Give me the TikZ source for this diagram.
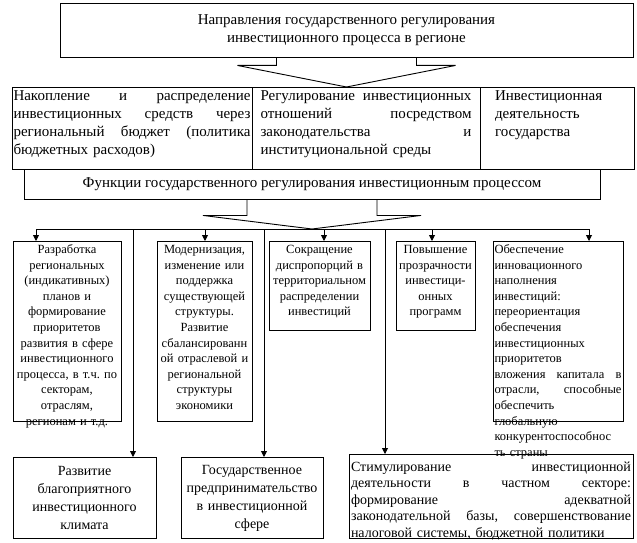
\documentclass[tikz,border=0pt]{standalone}
\usepackage{fontspec}
\setmainfont{Liberation Serif}
\usetikzlibrary{arrows.meta, calc}
\frenchspacing
\newcommand{\jl}[1]{{\spaceskip=0.25em plus 10em\relax\makebox[\hsize][s]{#1}}}
\tikzset{
  head/.style={draw, line width=0.9pt, align=center, font={\fontsize{15pt}{18pt}\selectfont}},
  cell/.style={draw, line width=0.9pt, anchor=north, align=left, inner ysep=0pt,
               font={\fontsize{15pt}{18pt}\selectfont}, text height=13pt, text depth=69pt},
  fn/.style={draw, line width=0.9pt, anchor=north, align=center, inner xsep=1.5pt, inner ysep=0pt,
             font={\fontsize{12.5pt}{15.6pt}\selectfont}, text height=12pt, text depth=#1},
  fn/.default=168pt,
  res/.style={draw, line width=0.9pt, anchor=north, inner xsep=2pt, align=center,
              font={\fontsize{14pt}{18pt}\selectfont}},
  arr/.style={-{Triangle[length=6pt, width=6pt]}, line width=0.9pt},
  wire/.style={line width=0.9pt},
  fat/.style={line width=0.9pt, line join=miter},
}

\begin{document}
\begin{tikzpicture}[x=1pt, y=-1pt]
    \useasboundingbox (0,0) rectangle (637,543);
    % header
    \node[head, minimum width=573pt, minimum height=54pt] (dir) at (346.5,30)
      {Направления государственного регулирования\\инвестиционного процесса в регионе};
    % directions
    \node[cell, text width=237pt, inner xsep=1.5pt] (acc) at (132,87)
      {\jl{Накопление и распределение}\\\jl{инвестиционных средств через}\\\jl{региональный бюджет (политика}\\бюджетных расходов)};
    \node[cell, text width=211pt, inner xsep=8.5pt] (reg) at (366,87)
      {\jl{Регулирование инвестиционных}\\\jl{отношений посредством}\\\jl{законодательства и}\\институциональной среды};
    \node[cell, text width=124pt, inner xsep=15pt] (act) at (557,87)
      {Инвестиционная\\деятельность\\государства};
    % functions
    \node[head, minimum width=576pt, minimum height=30pt] (fun) at (312,184)
      {Функции государственного регулирования инвестиционным процессом};
    \node[fn, text width=105pt] (f1) at (67,241)
      {Разработка\\региональных\\(индикативных)\\планов и\\формирование\\приоритетов\\развития в сфере\\инвестиционного\\процесса, в т.ч. по\\секторам,\\отраслям,\\регионам и т.д.};
    \node[fn, text width=92pt] (f2) at (204.5,241)
      {Модернизация,\\изменение или\\поддержка\\существующей\\структуры.\\Развитие\\сбалансированн\\ой отраслевой и\\региональной\\структуры\\экономики};
    \node[fn=77pt, text width=98pt] (f3) at (319.5,241)
      {Сокращение\\диспропорций в\\территориальном\\распределении\\инвестиций};
    \node[fn=77pt, text width=76pt] (f4) at (435.5,241)
      {Повышение\\прозрачности\\инвестици-\\онных\\программ};
    \node[fn, text width=127pt, align=left] (f5) at (558,241)
      {Обеспечение\\инновационного\\наполнения\\инвестиций:\\переориентация\\обеспечения\\инвестиционных\\приоритетов\\\jl{вложения капитала в}\\\jl{отрасли, способные}\\обеспечить\\глобальную\\конкурентоспособнос\\ть страны};
    % results
    \node[res, text width=139pt, minimum height=81pt] (devA) at (84.5,457)
      {Развитие\\благоприятного\\инвестиционного\\климата};
    \node[res, text width=138pt, minimum height=81pt] (devB) at (252,457)
      {Государственное\\предпринимательство\\в инвестиционной\\сфере};
    \node[res, text width=280pt, align=left, inner ysep=0pt, text height=17pt, text depth=67pt,
          font={\fontsize{14pt}{16.5pt}\selectfont}] (devC) at (491,454)
      {\jl{Стимулирование инвестиционной}\\\jl{деятельности в частном секторе:}\\\jl{формирование адекватной}\\\jl{законодательной базы, совершенствование}\\налоговой системы, бюджетной политики};

    % wide arrows
    \draw[fat] ($(dir.south)+(-70,0)$) -- ++(0,8) -- ++(-39,0) -- (dir.south |- acc.north)
      -- ($(dir.south)+(109,8)$) -- ++(-39,0) -- ++(0,-8);
    \coordinate (busL) at (36,229);
    \coordinate (busR) at (589,229);
    \draw[fat] ($(fun.south)+(-65,0)$) -- ++(0,16) -- ++(-44,0) -- (fun.south |- busL)
      -- ($(fun.south)+(109,16)$) -- ++(-44,0) -- ++(0,-16);
    % bus
    \draw[wire] (busL) -- (busR);
    \coordinate (t2) at (205,229);
    \coordinate (t3) at (324,229);
    \coordinate (t4) at (432,229);
    \coordinate (v1) at (133,229);
    \coordinate (v2) at (264,229);
    \coordinate (v3) at (385,229);
    \draw[arr] (busL) -- (busL |- f1.north);
    \draw[arr] (t2) -- (t2 |- f2.north);
    \draw[arr] (t3) -- (t3 |- f3.north);
    \draw[arr] (t4) -- (t4 |- f4.north);
    \draw[arr] (busR) -- (busR |- f5.north);
    \draw[arr] (v1) -- (v1 |- devA.north);
    \draw[arr] (v2) -- (v2 |- devB.north);
    \draw[arr] (v3) -- (v3 |- devC.north);
\end{tikzpicture}
\end{document}
